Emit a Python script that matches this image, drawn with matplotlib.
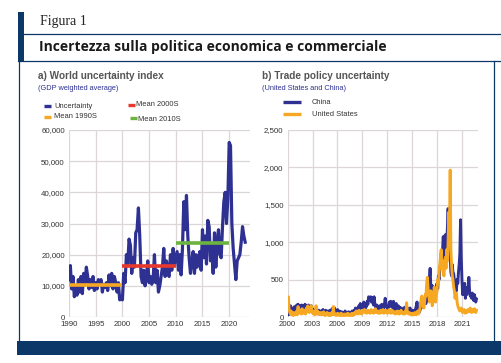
import numpy as np
import matplotlib.pyplot as plt
from matplotlib.patches import Rectangle
from matplotlib.lines import Line2D

# ---- data: world uncertainty index, quarterly 1990Q1 - 2023Q1 ----
wui = [12000, 16500, 9000, 13000,
       6500, 10000, 7000, 12000,
       8000, 13000, 7500, 14000,
       11000, 16000, 13000, 9000,
       12000, 9500, 13000, 8500,
       11000, 9000, 12000, 10500,
       12000, 8000, 10500, 9500,
       11000, 8500, 13500, 10000,
       14000, 9000, 13000, 11000,
       8000, 11000, 5500, 6500,
       5500, 14000, 11000, 20000,
       17000, 25000, 23000, 14000,
       19000, 16000, 27000, 28000,
       35000, 26000, 13000, 11000,
       15000, 10000, 13000, 18000,
       11000, 13000, 10500, 12000,
       20000, 11000, 15000, 8000,
       10000, 13000, 16000, 22000,
       13000, 18000, 14000, 13000,
       20000, 15000, 22000, 17000,
       19000, 21000, 15000, 20000,
       13500, 22000, 37000, 28000,
       39000, 26000, 19000, 14000,
       18000, 21000, 14000, 20000,
       16000, 19000, 21000, 15000,
       28000, 19000, 26000, 17000,
       31000, 29000, 18000, 23000,
       14000, 27000, 16000, 24000,
       28000, 20000, 19000, 29000,
       37000, 40000, 30000, 38000,
       56000, 55000, 30000, 22000,
       17000, 12000, 18000, 19000,
       20000, 24000, 29000, 26000,
       24000]
wui_t = 1990 + np.arange(len(wui)) / 4.0

mean_labels = ['Mean 1990S', 'Mean 2000S', 'Mean 2010S']
mean_vals = [10400, 16300, 23800]
mean_start = [1990, 2000, 2010]
mean_end = [2000, 2010, 2020]

# ---- data: trade policy uncertainty, monthly 2000-01 - 2022-10 ----
china = [60, 30, 110, 40, 150, 90, 60, 120, 80, 50, 140, 100,
         90, 160, 120, 170, 110, 150, 130, 100, 160, 140, 90, 150,
         120, 170, 90, 150, 130, 110, 160, 80, 140, 100, 150, 120,
         70, 100, 60, 90, 50, 80, 110, 60, 40, 90, 70, 50,
         80, 40, 60, 100, 50, 70, 30, 90, 60, 40, 80, 50,
         60, 90, 40, 70, 110, 50, 80, 130, 60, 90, 40, 70,
         100, 60, 40, 80, 50, 30, 70, 40, 60, 30, 50, 80,
         40, 60, 30, 50, 70, 40, 30, 60, 50, 80, 40, 60,
         90, 70, 120, 60, 100, 80, 130, 150, 110, 180, 140, 120,
         160, 130, 200, 150, 110, 180, 140, 210, 170, 270, 230, 250,
         270, 200, 260, 220, 160, 270, 180, 140, 120, 160, 100, 130,
         110, 150, 90, 130, 170, 120, 100, 140, 180, 250, 160, 130,
         120, 90, 150, 200, 140, 210, 170, 190, 120, 210, 160, 100,
         140, 180, 120, 90, 150, 110, 130, 80, 120, 100, 70, 110,
         90, 130, 70, 100, 140, 80, 60, 110, 90, 120, 70, 50,
         60, 90, 40, 80, 60, 110, 150, 200, 120, 90, 60, 80,
         110, 200, 160, 130, 200, 170, 250, 210, 180, 300, 220, 380,
         450, 520, 650, 400, 300, 420, 350, 280, 360, 250, 310, 400,
         450, 380, 550, 500, 650, 700, 850, 750, 900, 1075, 800, 950,
         1100, 900, 1000, 1200, 1450, 1100, 900, 800, 600, 550, 700, 600,
         580, 500, 450, 400, 350, 500, 450, 600, 700, 850, 1300, 800,
         500, 300, 350, 300, 450, 250, 350, 300, 400, 330, 530, 350,
         280, 300, 250, 320, 260, 220, 300, 250, 200, 240]
usa = [150, 270, 100, 60, 40, 80, 30, 50, 20, 60, 40, 30,
       40, 80, 30, 140, 60, 100, 50, 90, 40, 110, 70, 50,
       60, 90, 40, 120, 80, 150, 100, 60, 130, 90, 150, 70,
       50, 80, 40, 60, 30, 150, 90, 50, 70, 40, 60, 30,
       40, 60, 30, 50, 70, 40, 20, 50, 30, 60, 40, 20,
       30, 50, 20, 40, 60, 30, 140, 50, 30, 40, 20, 30,
       50, 30, 40, 20, 30, 50, 20, 40, 30, 20, 40, 30,
       20, 40, 30, 50, 20, 30, 40, 20, 30, 50, 20, 40,
       30, 60, 40, 80, 50, 70, 40, 90, 60, 50, 70, 40,
       60, 90, 70, 100, 60, 80, 50, 70, 90, 60, 80, 50,
       70, 100, 60, 80, 50, 90, 60, 110, 70, 60, 80, 50,
       60, 80, 50, 90, 70, 60, 100, 50, 80, 60, 90, 70,
       50, 80, 60, 100, 70, 50, 90, 60, 80, 50, 70, 60,
       40, 70, 50, 80, 60, 40, 70, 50, 90, 60, 50, 40,
       60, 40, 80, 50, 190, 70, 50, 40, 60, 50, 30, 40,
       30, 50, 40, 30, 60, 40, 30, 50, 80, 40, 60, 100,
       150, 250, 280, 200, 150, 120, 200, 300, 280, 450, 530, 380,
       300, 200, 250, 350, 280, 150, 200, 300, 400, 250, 200, 300,
       350, 500, 450, 600, 700, 800, 900, 650, 750, 600, 550, 700,
       800, 650, 900, 750, 1000, 1400, 1200, 1965, 900, 700, 550, 500,
       400, 350, 250, 300, 320, 200, 150, 120, 100, 80, 100, 120,
       90, 60, 80, 100, 70, 50, 90, 60, 80, 100, 70, 90,
       120, 80, 60, 100, 70, 90, 110, 80, 60, 90]
tpu_t = 2000 + np.arange(len(china)) / 12.0

NAVY = '#0b3868'
BLUE = '#2e3192'
ORANGE = '#f7a823'
RED = '#e8382b'
GREEN = '#6cb43f'
GRID = '#ddd6d6'
TXT = '#333333'

W, H = 502, 363
fig = plt.figure(figsize=(W / 100, H / 100), dpi=100, facecolor='w')


def fx(px):
    return px / W


def fy(py):
    return 1 - py / H


# frame of the figure box
fig.patches.append(Rectangle((fx(18), fy(61)), fx(6), fy(12) - fy(61),
                             transform=fig.transFigure, color=NAVY, lw=0))
fig.patches.append(Rectangle((fx(17.5), fy(354.5)), fx(W - 17.5), fy(340.5) - fy(354.5),
                             transform=fig.transFigure, color=NAVY, lw=0))
fig.lines.append(Line2D([fx(24), 1], [fy(34), fy(34)], transform=fig.transFigure, color=NAVY, lw=0.9))
fig.lines.append(Line2D([fx(18), 1], [fy(61), fy(61)], transform=fig.transFigure, color=NAVY, lw=0.9))
fig.lines.append(Line2D([fx(19.5), fx(19.5)], [fy(61), fy(341)], transform=fig.transFigure, color=NAVY, lw=0.9))
fig.lines.append(Line2D([fx(494.5), fx(494.5)], [fy(61), fy(341)], transform=fig.transFigure, color=NAVY, lw=0.9))

fig.text(fx(40), fy(22), 'Figura 1', family='Liberation Serif', fontsize=10, color='#222222', va='center')
fig.text(fx(39), fy(47), 'Incertezza sulla politica economica e commerciale', family='Open Sans',
         fontweight='bold', fontsize=10, color='#1a1a1a', va='center')


def style(ax):
    ax.set_facecolor('w')
    for s in ax.spines.values():
        s.set_visible(False)
    ax.grid(True, color=GRID, lw=0.9)
    ax.set_axisbelow(True)
    ax.tick_params(length=0, labelsize=5.7, colors=TXT, pad=3)
    for lab in ax.get_xticklabels() + ax.get_yticklabels():
        lab.set_family('Liberation Sans')


# ---- panel a ----
axa = fig.add_axes([fx(69), fy(317), fx(250 - 69), fy(130) - fy(317)])
axa.plot(wui_t, wui, color=BLUE, lw=2.3)
mean_cols = [ORANGE, RED, GREEN]
for v, s, e, c in zip(mean_vals, mean_start, mean_end, mean_cols):
    axa.plot([s, e], [v, v], color=c, lw=2.6, solid_capstyle='butt')
axa.set_xlim(1990, 2023.9)
axa.set_ylim(0, 60000)
axa.set_xticks(range(1990, 2021, 5))
axa.set_yticks(range(0, 60001, 10000))
axa.set_yticklabels(['0'] + [f'{v:,}' for v in range(10000, 60001, 10000)])
style(axa)

fig.text(fx(38), fy(76), 'a) World uncertainty index', family='Liberation Sans', fontweight='bold',
         fontsize=7.2, color='#555555', va='center')
fig.text(fx(38), fy(88), '(GDP weighted average)', family='Liberation Sans', fontsize=5.3,
         color=BLUE, va='center')

leg_a = [('Uncertainty', BLUE, 44, 106), ('Mean 1990S', ORANGE, 44, 117),
         ('Mean 2000S', RED, 128, 105), ('Mean 2010S', GREEN, 130, 118)]
for lab, c, x0, y0 in leg_a:
    fig.lines.append(Line2D([fx(x0), fx(x0 + 7)], [fy(y0), fy(y0)], transform=fig.transFigure,
                            color=c, lw=2.4, solid_capstyle='butt'))
    fig.text(fx(x0 + 10 if x0 < 100 else x0 + 8), fy(y0 + (1.5 if lab == 'Mean 2010S' else 0)), lab,
             family='Liberation Sans', fontsize=5.4, color=TXT, va='center')

# ---- panel b ----
axb = fig.add_axes([fx(287.7), fy(317), fx(477.7 - 287.7), fy(130) - fy(317)])
axb.plot(tpu_t, china, color=BLUE, lw=2.1)
axb.plot(tpu_t, usa, color=ORANGE, lw=2.1)
axb.set_xlim(2000, 2022.9)
axb.set_ylim(0, 2500)
axb.set_xticks(range(2000, 2022, 3))
axb.set_yticks(range(0, 2501, 500))
axb.set_yticklabels(['0'] + [f'{v:,}' for v in range(500, 2501, 500)])
style(axb)

fig.text(fx(262), fy(76), 'b) Trade policy uncertainty', family='Liberation Sans', fontweight='bold',
         fontsize=7.2, color='#555555', va='center')
fig.text(fx(262), fy(88), '(United States and China)', family='Liberation Sans', fontsize=5.3,
         color=BLUE, va='center')

for lab, c, y0 in [('China', BLUE, 102), ('United States', ORANGE, 114)]:
    fig.lines.append(Line2D([fx(283), fx(301)], [fy(y0), fy(y0)], transform=fig.transFigure,
                            color=c, lw=2.4, solid_capstyle='butt'))
    fig.text(fx(312), fy(y0), lab, family='Liberation Sans', fontsize=5.4, color=TXT, va='center')

fig.savefig('out.png', dpi=100, facecolor='w')
